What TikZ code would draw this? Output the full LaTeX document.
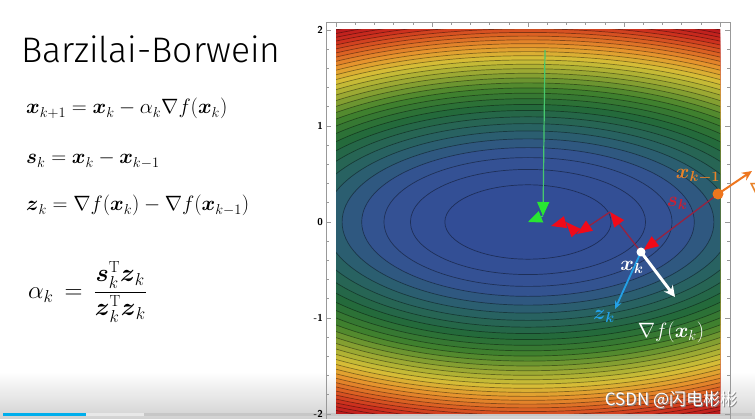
\documentclass[tikz,border=0pt]{standalone}
\usepackage{amsmath,amssymb}
\usepackage{fontspec}
\newfontfamily\titlefont{Fira Sans Light}
\newfontfamily\cjk{Noto Sans CJK SC}
\usetikzlibrary{arrows.meta}
\definecolor{cm0}{RGB}{50,76,150}
\definecolor{cm1}{RGB}{52,82,148}
\definecolor{cm2}{RGB}{40,98,98}
\definecolor{cm3}{RGB}{36,106,58}
\definecolor{cm4}{RGB}{66,130,45}
\definecolor{cm5}{RGB}{145,165,50}
\definecolor{cm6}{RGB}{212,192,55}
\definecolor{cm7}{RGB}{230,150,45}
\definecolor{cm8}{RGB}{220,95,35}
\definecolor{cm9}{RGB}{203,45,30}
\definecolor{cm10}{RGB}{185,25,30}
\definecolor{darkred}{RGB}{150,35,65}
\definecolor{brightred}{RGB}{240,10,25}
\definecolor{orng}{RGB}{238,118,30}
\definecolor{xorange}{RGB}{232,130,40}
\definecolor{skred}{RGB}{205,30,50}
\definecolor{zblue}{RGB}{35,160,230}
\definecolor{gline}{RGB}{70,200,110}
\definecolor{ghead}{RGB}{40,230,50}
\definecolor{barblue}{RGB}{0,174,236}
\newcommand{\bx}{\boldsymbol{x}}
\newcommand{\bs}{\boldsymbol{s}}
\newcommand{\bz}{\boldsymbol{z}}
\newcommand{\bk}{\boldsymbol{k}}
\begin{document}
\begin{tikzpicture}[x=1pt,y=-1pt,
  eq/.style={anchor=base west, inner sep=0pt, font=\fontsize{21}{25}\selectfont},
  plab/.style={inner sep=0pt, font=\fontsize{21}{24}\selectfont},
  ticklab/.style={anchor=east, inner sep=0pt, font=\sffamily\bfseries\fontsize{10}{12}\selectfont},
  frameline/.style={draw=black!40, line width=0.6pt},
  redseg/.style={draw=darkred, line width=1.3pt, -{Triangle[length=15pt,width=12pt,color=brightred]}},
  gseg/.style={draw=gline, line width=1.2pt, -{Triangle[length=14pt,width=12pt,color=ghead]}},
  oarrow/.style={draw=orng, line width=2pt, -{Stealth[length=10pt,width=9pt]}},
  warrow/.style={draw=white, line width=3pt, -{Stealth[length=11pt,width=11pt]}},
  barrow/.style={draw=zblue, line width=1.8pt, -{Stealth[length=8pt,width=7pt]}}]
\useasboundingbox (0,0) rectangle (755,419);
\fill[white] (0,0) rectangle (755,419);
\shade[top color=white, bottom color=black!18] (0,372) rectangle (755,419);
\fill[black!22] (3,413) rectangle (752,416);
\fill[black!9] (86,413) rectangle (144,416);
\fill[barblue] (3,413) rectangle (86,416);
% contour plot
\begin{scope}[shift={(528,222)}, x=96pt, y=96pt]
  \clip (-2,-2) rectangle (2,2);
  \fill[cm10] (-2,-2) rectangle (2,2);
  \foreach \k in {34,33,...,1}{
    \pgfmathsetmacro{\tt}{min((\k-0.5)/32,1)*10}
    \pgfmathtruncatemacro{\ii}{min(floor(\tt),9)}
    \pgfmathtruncatemacro{\jj}{\ii+1}
    \pgfmathtruncatemacro{\pp}{round(100*(\jj-\tt))}
    \pgfmathsetmacro{\rx}{sqrt(0.75*\k)}
    \pgfmathsetmacro{\ry}{sqrt(0.15*\k)}
    \colorlet{bandc}{cm\ii!\pp!cm\jj}
    \fill[bandc] (0,0) ellipse [x radius=\rx, y radius=\ry];
  }
  \foreach \k in {1,...,34}{
    \pgfmathsetmacro{\rx}{sqrt(0.75*\k)}
    \pgfmathsetmacro{\ry}{sqrt(0.15*\k)}
    \draw[black, opacity=0.4, line width=0.7pt] (0,0) ellipse [x radius=\rx, y radius=\ry];
  }
\end{scope}
% frame and ticks
\draw[frameline] (326,430) -- (326,22) -- (730,22) -- (730,430);
\foreach \n in {0,...,20}{
  \pgfmathsetmacro{\len}{ifthenelse(mod(\n,5)==0,5,3)}
  \draw[frameline] (326,30+19.2*\n) -- ++(\len,0);
  \draw[frameline] (730,30+19.2*\n) -- ++(-\len,0);
  \draw[frameline] (336+19.2*\n,22) -- ++(0,\len);
}
\node[ticklab] (t2) at (323,30) {2};
\node[ticklab] (t1) at (323,126) {1};
\node[ticklab] (t0) at (323,222) {0};
\node[ticklab] (tm1) at (323,318) {-1};
\node[ticklab] (tm2) at (323,414) {-2};
% title and equations
\node[anchor=base west, inner sep=0pt, font=\titlefont\fontsize{35.5}{42}\selectfont] (title) at (21,63) {Barzilai-Borwein};
\node[eq] (eq1) at (26,114) {$\bx_{k+1} = \bx_k - \alpha_k \nabla f(\bx_k)$};
\node[eq] (eq2) at (26,164) {$\bs_k = \bx_k - \bx_{k-1}$};
\node[eq] (eq3) at (26,211) {$\bz_k = \nabla f(\bx_k) - \nabla f(\bx_{k-1})$};
\node[anchor=west, inner sep=0pt, font=\fontsize{23}{27}\selectfont] (eq4) at (28,292) {$\alpha_k \,=\, \dfrac{\bs_k^{\mathrm{T}}\bz_k}{\bz_k^{\mathrm{T}}\bz_k}$};
% points
\coordinate (xkm1) at (718,194);
\coordinate (xk) at (641,252);
\coordinate (p2) at (610,212);
\coordinate (p3) at (577,234);
\coordinate (p4) at (566,222);
\coordinate (p5) at (551,226);
\coordinate (g0) at (545,50);
\coordinate (g1) at (543,216);
\coordinate (g2) at (528,222);
\coordinate (oend) at (752,171);
\coordinate (wend) at (675,297);
\coordinate (bend) at (615,309);
% arrows
\draw[gseg] (g0) -- (g1);
\draw[gseg] (g1) -- (g2);
\draw[redseg, shorten >=3pt] (xkm1) -- (xk);
\draw[redseg] (xk) -- (p2);
\draw[redseg] (p2) -- (p3);
\draw[redseg] (p3) -- (p4);
\draw[redseg] (p4) -- (p5);
\draw[oarrow] (xkm1) -- (oend);
\draw[barrow] (xk) -- (bend);
\draw[warrow] (xk) -- (wend);
\fill[orng] (xkm1) circle [radius=5.5];
\fill[white] (xk) circle [radius=4.5];
% labels
\node[plab, text=xorange] (lxkm1) at (698,176) {$\bx_{\boldsymbol{k-1}}$};
\node[plab, text=skred] (lsk) at (677,203) {$\bs_{\bk}$};
\node[plab, text=white] (lxk) at (632,267) {$\bx_{\bk}$};
\node[plab, text=zblue] (lzk) at (604,316) {$\bz_{\bk}$};
\node[plab, text=white] (lgrad) at (671,332) {$\nabla f(\bx_k)$};
\node[plab, text=xorange, anchor=west] (lgradm1) at (749,192) {$\nabla f(\bx_{k-1})$};
% watermark
\node[inner sep=0pt, text=black!45, font=\cjk\fontsize{17}{19}\selectfont] (wmshadow) at (672,401) {CSDN @闪电彬彬};
\node[inner sep=0pt, text=white, font=\cjk\fontsize{17}{19}\selectfont] (wm) at (671,400) {CSDN @闪电彬彬};
\end{tikzpicture}
\end{document}
